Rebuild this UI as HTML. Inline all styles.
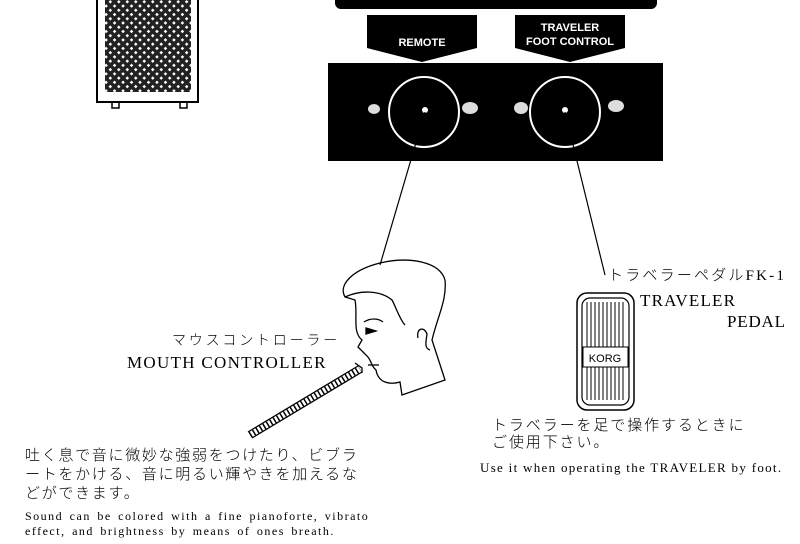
<!DOCTYPE html>
<html><head><meta charset="utf-8"><style>
body{margin:0;background:#fff;width:800px;height:544px;overflow:hidden;position:relative;font-family:"Liberation Serif","Noto Serif CJK SC",serif;color:#000}
.t{position:absolute;white-space:nowrap;line-height:1}
.jp{font-family:"Liberation Sans","Noto Sans CJK JP",sans-serif;font-weight:300}
</style></head><body>
<svg width="800" height="544" style="position:absolute;left:0;top:0">
<rect x="97" y="-5" width="101" height="107" fill="#fff" stroke="#000" stroke-width="2"/>
<rect x="105" y="-5" width="86" height="97" fill="#222"/>
<defs><pattern id="g" width="6" height="6" patternUnits="userSpaceOnUse" patternTransform="rotate(45)"><rect width="6" height="6" fill="#222"/><rect x="0" y="0" width="2.5" height="2.5" fill="#fff"/></pattern></defs>
<rect x="105" y="-5" width="86" height="97" fill="url(#g)"/>
<rect x="112" y="102" width="7" height="6" fill="none" stroke="#000" stroke-width="1.5"/>
<rect x="180" y="102" width="7" height="6" fill="none" stroke="#000" stroke-width="1.5"/>
<rect x="335" y="-10" width="322" height="19" rx="6" fill="#000"/>
<path d="M367 15H477V48L422 62L367 48Z" fill="#000"/>
<path d="M515 15H625V48L570 62L515 48Z" fill="#000"/>
<text x="422" y="46" font-family="Liberation Sans" font-weight="bold" font-size="11" fill="#fff" text-anchor="middle">REMOTE</text>
<text x="570" y="31" font-family="Liberation Sans" font-weight="bold" font-size="11" fill="#fff" text-anchor="middle">TRAVELER</text>
<text x="570" y="45" font-family="Liberation Sans" font-weight="bold" font-size="11" fill="#fff" text-anchor="middle">FOOT CONTROL</text>
<rect x="328" y="63" width="335" height="98" fill="#000"/>
<circle cx="424" cy="112" r="35" fill="none" stroke="#fff" stroke-width="2"/>
<circle cx="565" cy="112" r="35" fill="none" stroke="#fff" stroke-width="2"/>
<circle cx="425" cy="110" r="3" fill="#fff"/><circle cx="565" cy="110" r="3" fill="#fff"/>
<ellipse cx="374" cy="109" rx="6" ry="5" fill="#ddd"/><ellipse cx="470" cy="108" rx="8" ry="6" fill="#ddd"/>
<ellipse cx="521" cy="108" rx="7" ry="6" fill="#ddd"/><ellipse cx="616" cy="106" rx="8" ry="6" fill="#ddd"/>
<line x1="425" y1="112" x2="380" y2="265" stroke="#000" stroke-width="1.2"/>
<line x1="565" y1="112" x2="605" y2="275" stroke="#000" stroke-width="1.2"/>
<g fill="none" stroke="#000" stroke-width="1.3">
<path d="M345 297C338 285 352 270 380 263C410 256 440 262 445 280C447 300 438 315 432 340L445 380L402 395L400 382C390 385 378 383 376 370C370 365 372 360 366 355L358 347L362 340C352 332 358 315 355 300L345 297Z"/>
<path d="M345 297C360 290 380 290 392 300C395 305 400 320 405 325"/>
<path d="M418 338C416 328 424 326 427 334C426 342 424 348 430 350"/>
<path d="M364 322C370 318 378 318 383 322"/>
<path d="M366 328L376 331L366 334Z" fill="#000"/>
<path d="M368 365H379"/>
</g>
<g stroke="#000" stroke-width="1.3" fill="none">
<path d="M358 366L248 432"/><path d="M362 372L252 438"/>
<path d="M355 363L362 368L362 373" />
</g>
<path d="M250 435L360 369" stroke="#000" stroke-width="6" stroke-dasharray="1.5 2.5" fill="none"/>
<rect x="577" y="293" width="57" height="117" rx="10" fill="#fff" stroke="#000" stroke-width="1.5"/>
<rect x="582" y="298" width="47" height="107" rx="8" fill="#fff" stroke="#000" stroke-width="1.2"/>
<g stroke="#000" stroke-width="1">
<line x1="587" y1="302" x2="587" y2="400"/><line x1="591" y1="302" x2="591" y2="400"/><line x1="595" y1="302" x2="595" y2="400"/><line x1="599" y1="302" x2="599" y2="400"/><line x1="603" y1="302" x2="603" y2="400"/><line x1="607" y1="302" x2="607" y2="400"/><line x1="611" y1="302" x2="611" y2="400"/><line x1="615" y1="302" x2="615" y2="400"/><line x1="619" y1="302" x2="619" y2="400"/><line x1="623" y1="302" x2="623" y2="400"/>
</g>
<rect x="583" y="347" width="45" height="20" fill="#fff" stroke="#000"/>
<text x="605" y="362" font-family="Liberation Sans" font-size="11" text-anchor="middle">KORG</text>
</svg>
<div class="t jp" style="left:172px;top:333px;font-size:14px;letter-spacing:2.8px">マウスコントローラー</div>
<div class="t" style="left:127px;top:354px;font-size:17px;letter-spacing:1.3px">MOUTH CONTROLLER</div>
<div class="t jp" style="left:608px;top:268px;font-size:15px;letter-spacing:2.2px">トラベラーペダル<b style="font-family:'Liberation Serif'">FK-1</b></div>
<div class="t" style="left:640px;top:292px;font-size:17px;letter-spacing:1.2px">TRAVELER</div>
<div class="t" style="left:727px;top:313px;font-size:17px;letter-spacing:0.8px">PEDAL</div>
<div class="t jp" style="left:492px;top:418px;font-size:15px;letter-spacing:1.9px">トラベラーを足で操作するときに</div>
<div class="t jp" style="left:492px;top:435px;font-size:15px;letter-spacing:1.9px">ご使用下さい。</div>
<div class="t" style="left:480px;top:461px;font-size:13px;letter-spacing:1.3px">Use it when operating the TRAVELER by foot.</div>
<div class="t jp" style="left:25px;top:446px;font-size:15px;line-height:19px;letter-spacing:1.7px">吐く息で音に微妙な強弱をつけたり、ビブラ<br>ートをかける、音に明るい輝やきを加えるな<br>どができます。</div>
<div class="t" style="left:25px;top:509px;font-size:12px;line-height:15px;letter-spacing:1.5px;word-spacing:2px">Sound can be colored with a fine pianoforte, vibrato<br>effect, and brightness by means of ones breath.</div>
</body></html>
